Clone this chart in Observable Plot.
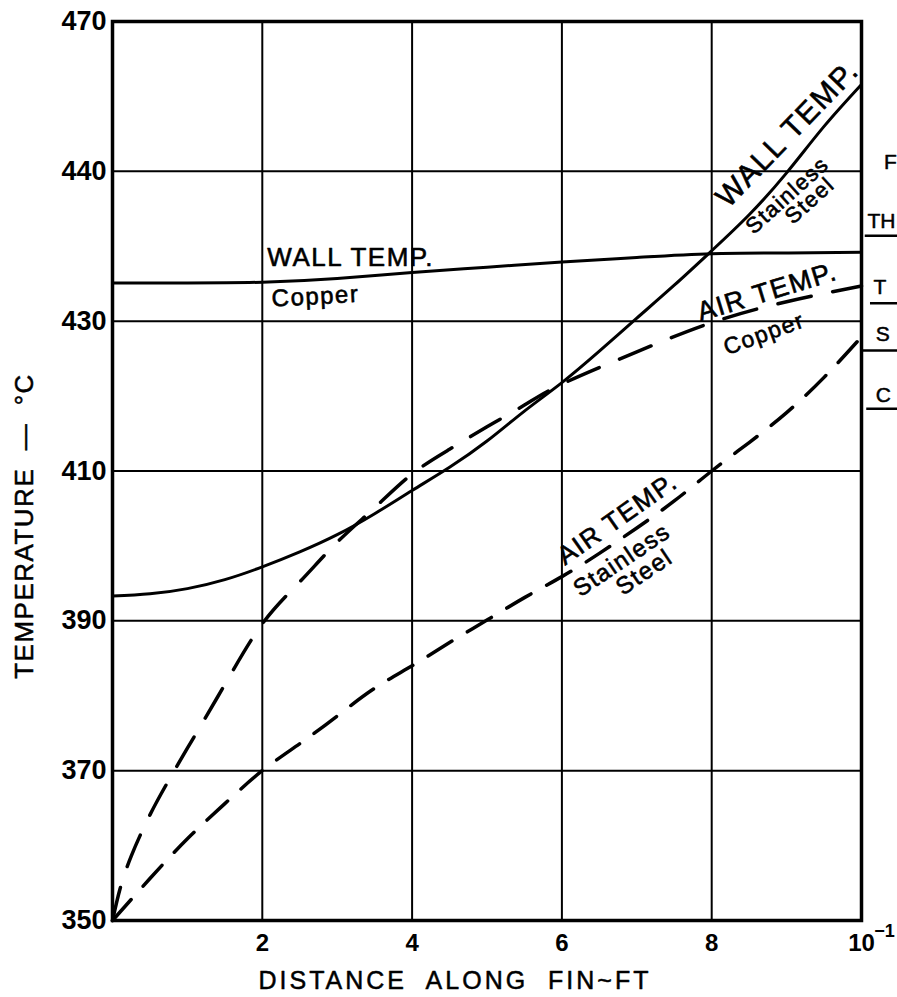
<!DOCTYPE html>
<html><head><meta charset="utf-8">
<script src="https://cdn.jsdelivr.net/npm/d3@7"></script>
<script src="https://cdn.jsdelivr.net/npm/@observablehq/plot@0.6"></script>
<style>
html,body{margin:0;padding:0;background:#fff;overflow:hidden;}
#chart svg{display:block;}
</style></head><body><div id="chart"></div>
<script>
// axis ticks (labels as printed on the original)
const yTickValues = [350, 370, 390, 410, 430, 450, 470];
const yTickLabels = ["350", "370", "390", "410", "430", "440", "470"];
const xTickValues = [2, 4, 6, 8, 10];
const xTickLabels = ["2", "4", "6", "8", "10"];

// WALL TEMP. – Copper (solid)
const wallCopperDist = [0, 1, 2, 3, 4, 5, 6, 7, 8, 9, 10];
const wallCopperTemp = [435.1, 435.1, 435.2, 435.7, 436.5, 437.2, 437.9, 438.5, 439.0, 439.1, 439.2];

// WALL TEMP. – Stainless Steel (solid)
const wallSteelDist = [0, 0.5, 1, 1.5, 2, 2.5, 3, 3.5, 4, 4.5, 5, 5.5, 6, 6.5, 7, 7.5, 8, 8.5, 9, 9.5, 10];
const wallSteelTemp = [393.3, 393.6, 394.3, 395.5, 397.2, 399.2, 401.5, 404.3, 407.4, 410.5, 414.0, 418.0, 421.8, 426.0, 430.4, 434.8, 439.4, 444.2, 449.8, 456.0, 461.6];

// AIR TEMP. – Copper (long dashes)
const airCopperDist = [0, 0.1, 0.25, 0.5, 0.75, 1, 1.5, 2, 2.5, 3, 3.5, 4, 4.5, 5, 5.5, 6, 7, 8, 9, 10];
const airCopperTemp = [350, 354.2, 358.6, 364.1, 368.7, 373.0, 381.5, 389.6, 395.2, 400.5, 405.1, 409.6, 412.9, 415.9, 418.8, 421.6, 425.9, 429.8, 432.6, 434.7];

// AIR TEMP. – Stainless Steel (dashes)
const airSteelDist = [0, 0.5, 1, 1.5, 2, 2.5, 3, 3.5, 4, 4.5, 5, 5.5, 6, 6.5, 7, 7.5, 8, 8.5, 9, 9.5, 10];
const airSteelTemp = [350, 355.6, 360.9, 365.6, 370.0, 373.6, 377.3, 381.0, 384.0, 387.1, 390.1, 393.1, 395.9, 399.0, 402.4, 406.0, 410.0, 413.8, 417.8, 422.5, 427.9];

// in-plot annotations
const annText   = ["WALL TEMP.", "Copper", "WALL TEMP.", "Stainless", "Steel", "AIR TEMP.", "Copper", "AIR TEMP.", "Stainless", "Steel"];
const annX      = [3.18, 2.71, 9.01, 9.01, 9.31, 8.74, 8.70, 6.74, 6.80, 7.10];
const annY      = [438.5, 433.3, 455.0, 446.8, 446.1, 433.9, 428.3, 403.6, 398.1, 396.5];
const annRotate = [0, -3, -46, -42, -42, -17, -20, -35, -34, -34];
const annSize   = [26, 24, 30, 22, 22, 27, 23, 26, 24, 24];

// cropped fragments at right edge of the original scan
const edgeText = ["F", "TH", "T", "S", "C"];
const edgeX    = [10.30, 10.08, 10.16, 10.19, 10.19];
const edgeY    = [451.2, 443.3, 434.5, 428.2, 420.1];
const edgeLineY  = [441.4, 432.4, 426.1, 418.3];
const edgeLineX1 = [10.05, 10.12, 10.02, 10.07];

const toRows = (xs, ys) => xs.map((x, i) => ({x, y: ys[i]}));
const wallCopper = toRows(wallCopperDist, wallCopperTemp);
const wallSteel = toRows(wallSteelDist, wallSteelTemp);
const airCopper = toRows(airCopperDist, airCopperTemp);
const airSteel = toRows(airSteelDist, airSteelTemp);
const ann = annText.map((t, i) => ({t, x: annX[i], y: annY[i], r: annRotate[i], s: annSize[i]}));
const edge = edgeText.map((t, i) => ({t, x: edgeX[i], y: edgeY[i]}));
const edgeLines = edgeLineY.map((y, i) => ({y, x1: edgeLineX1[i], x2: 10.8}));

const xLabel = "DISTANCE ALONG FIN~FT";
const yLabel = "TEMPERATURE  \u2014  \u00B0C";

const chart = Plot.plot({
  width: 897,
  height: 997,
  marginLeft: 112,
  marginRight: 36,
  marginTop: 21,
  marginBottom: 77,
  style: {fontFamily: "'Liberation Sans', Arial, sans-serif", fontSize: "24px", background: "#fff", color: "#000"},
  x: {domain: [0, 10]},
  y: {domain: [350, 470]},
  marks: [
    Plot.ruleX(xTickValues, {stroke: "black", strokeWidth: 2}),
    Plot.ruleY(yTickValues, {stroke: "black", strokeWidth: 2}),
    Plot.frame({stroke: "black", strokeWidth: 3.5}),
    Plot.axisY(yTickValues, {tickSize: 0, tickPadding: 6, fontSize: 27, fontWeight: "bold", label: null,
      tickFormat: d => yTickLabels[yTickValues.indexOf(d)]}),
    Plot.axisX(xTickValues, {tickSize: 0, tickPadding: 13, fontSize: 24, fontWeight: "bold", label: null,
      tickFormat: d => xTickLabels[xTickValues.indexOf(d)]}),
    Plot.line(wallCopper, {x: "x", y: "y", curve: "natural", stroke: "black", strokeWidth: 3}),
    Plot.line(wallSteel, {x: "x", y: "y", curve: "natural", stroke: "black", strokeWidth: 3}),
    Plot.line(airCopper, {x: "x", y: "y", curve: "natural", stroke: "black", strokeWidth: 3.5, strokeDasharray: "34,22"}),
    Plot.line(airSteel, {x: "x", y: "y", curve: "natural", stroke: "black", strokeWidth: 3.5, strokeDasharray: "28,18"}),
    Plot.text(ann, {x: "x", y: "y", text: "t", rotate: "r", fontSize: "s", fill: "black",
      stroke: "black", strokeWidth: 0.6, textAnchor: "middle", lineAnchor: "middle"}),
    Plot.text(edge, {x: "x", y: "y", text: "t", fontSize: 21, fill: "black", stroke: "black", strokeWidth: 0.5,
      textAnchor: "start", lineAnchor: "middle", clip: false}),
    Plot.ruleY(edgeLines, {y: "y", x1: "x1", x2: "x2", stroke: "black", strokeWidth: 2.5}),
    Plot.text(["\u22121"], {x: 10.17, y: 348.6, fontSize: 18, fontWeight: "bold", textAnchor: "start", lineAnchor: "middle"}),
    Plot.text([xLabel], {frameAnchor: "bottom", dx: -32, dy: 60, fontSize: 25,
      textAnchor: "middle", lineAnchor: "middle", fill: "black", stroke: "black", strokeWidth: 0.5}),
    Plot.text([yLabel], {frameAnchor: "left", dx: -88, dy: 55, rotate: -90, fontSize: 26,
      textAnchor: "middle", lineAnchor: "middle", fill: "black", stroke: "black", strokeWidth: 0.5})
  ]
});
document.getElementById("chart").appendChild(chart);

// letter spacing like the hand lettering of the original
d3.select(chart).selectAll("text").each(function() {
  const t = this.textContent;
  if (t === xLabel) { this.style.letterSpacing = "3px"; this.style.wordSpacing = "10px"; }
  else if (t === yLabel) { this.style.letterSpacing = "1.5px"; }
  else if (annText.includes(t)) { this.style.letterSpacing = "1.5px"; }
});
</script>
</body></html>
